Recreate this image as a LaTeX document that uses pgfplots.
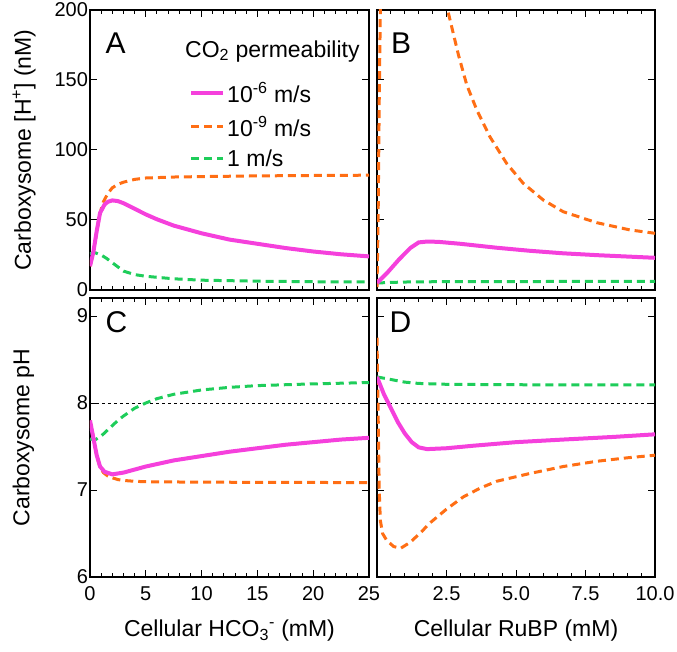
\documentclass[border=0pt]{standalone}
\usepackage{pgfplots}
\pgfplotsset{compat=1.18}
\usepackage{fontspec}
\setmainfont{Liberation Sans}
\definecolor{mag}{RGB}{245,64,220}
\definecolor{org}{RGB}{255,110,20}
\definecolor{grn}{RGB}{30,205,90}
\pgfplotsset{
  panel/.style={
    scale only axis, width=279pt, height=280pt,
    axis line style={line width=1.3pt},
    tick align=inside, xtick pos=both, ytick pos=both,
    major tick length=7pt, minor tick length=4pt,
    every tick/.style={black, line width=1pt},
    tick label style={font=\fontsize{20}{24}\selectfont},
    /pgf/number format/assume math mode=true,
    label style={font=\fontsize{23}{27}\selectfont},
    xticklabel style={inner ysep=1pt, yshift=-8.7pt},
    yticklabel style={inner ysep=0pt, xshift=1.5pt},
    ylabel style={at={(axis description cs:-0.29,0.5)}, anchor=north},
    xlabel style={at={(axis description cs:0.5,-0.215)}, anchor=base},
  },
  magl/.style={mag, line width=4pt},
  orgl/.style={org, line width=3pt, dash pattern=on 8pt off 5pt},
  grnl/.style={grn, line width=3pt, dash pattern=on 8pt off 5pt},
  refl/.style={black, line width=1pt, dash pattern=on 3pt off 3pt},
}
\begin{document}
\begin{tikzpicture}
\useasboundingbox (0,0) rectangle (677pt,651pt);
% Panel A
\begin{axis}[panel, at={(90pt,361pt)}, anchor=south west,
  xmin=0, xmax=25, ymin=0, ymax=200,
  xtick={0,5,...,25}, minor x tick num=4, xticklabels={},
  ytick={0,50,...,200},
  ylabel={Carboxysome [H\textsuperscript{+}] (nM)},
  reverse legend,
  legend image code/.code={\draw[#1] (0pt,0pt) -- (32pt,0pt);},
  legend cell align=left,
  legend style={draw=none, fill=none, at={(0.355,0.75)}, anchor=north west,
    font=\fontsize{23}{27}\selectfont, inner sep=0pt, row sep=8pt,
    nodes={inner sep=2pt},
    /tikz/every even column/.append style={column sep=14pt}},
]
\addplot[grnl] coordinates {(0,26)(0.5,26.5)(1,25)(1.5,22.5)(2,19.5)(3,13.5)(4,11)(5,9.8)(7.5,8)(10,7)(15,6.3)(20,5.9)(25,5.7)};
\addlegendentry{1 m/s}
\addplot[orgl] coordinates {(0,17)(0.3,27)(0.6,42)(0.9,55)(1.2,63)(1.6,69)(2,73)(2.5,75.5)(3,77)(4,79)(5,80)(7.5,80.7)(10,81)(15,81.5)(20,81.8)(25,82)};
\addlegendentry{10\textsuperscript{-9} m/s}
\addplot[magl] coordinates {(0,17)(0.3,27)(0.6,42)(0.9,55)(1.3,61)(1.6,63)(2,64)(2.5,63.5)(3,62)(4,58)(5,54)(6,50.5)(7.5,46)(10,40.5)(12.5,36)(15,33)(17.5,30)(20,27.5)(22.5,25.5)(25,24)};
\addlegendentry{10\textsuperscript{-6} m/s}
\node[anchor=base west, inner sep=0pt, font=\fontsize{30}{34}\selectfont] at (rel axis cs:0.055,0.846) {A};
\node[anchor=base west, inner sep=0pt, font=\fontsize{23}{27}\selectfont] at (rel axis cs:0.3405,0.832) {CO\textsubscript{2} permeability};
\end{axis}
% Panel B
\begin{axis}[panel, at={(377pt,361pt)}, anchor=south west, width=278pt,
  xmin=0, xmax=10, ymin=0, ymax=200,
  xtick={0,2.5,5,7.5,10}, minor x tick num=4, xticklabels={},
  ytick={0,50,...,200}, yticklabels={},
]
\addplot[grnl] coordinates {(0,5)(0.5,5.4)(1,5.7)(2,5.9)(4,6)(10,6.2)};
\addplot[orgl] coordinates {(0,2)(0.04,50)(0.08,135)(0.12,200)(0.2,300)(0.5,430)(0.85,470)(1.3,400)(1.9,280)(2.3,225)(2.57,197.6)(2.93,167.9)(3.23,146.4)(3.59,128.6)(4.06,109.5)(4.66,90.5)(5.26,76.2)(5.98,64.3)(6.7,55.9)(7.9,48.1)(9.1,42.9)(10,40.5)};
\addplot[magl] coordinates {(0,5)(0.4,13)(0.8,22)(1.2,30)(1.5,34)(1.8,34.6)(2.2,34.4)(3,33)(4.3,30.2)(5.5,28)(6.7,26.2)(8,24.8)(10,23)};
\node[anchor=base west, inner sep=0pt, font=\fontsize{30}{34}\selectfont] at (rel axis cs:0.05,0.846) {B};
\end{axis}
% Panel C
\begin{axis}[panel, at={(90pt,74pt)}, anchor=south west, height=279pt,
  xmin=0, xmax=25, ymin=6, ymax=9.207,
  xtick={0,5,...,25}, minor x tick num=4,
  ytick={6,7,8,9},
  ylabel={Carboxysome pH},
  xlabel={Cellular HCO\textsubscript{3}\textsuperscript{-} (mM)},
]
\addplot[refl] coordinates {(0,8)(25,8)};
\addplot[grnl] coordinates {(0,7.585)(0.5,7.58)(1,7.62)(1.5,7.68)(2,7.74)(2.5,7.8)(3,7.85)(4,7.94)(5,8.0)(6,8.05)(7.5,8.1)(10,8.15)(12.5,8.18)(15,8.2)(20,8.22)(25,8.235)};
\addplot[orgl] coordinates {(0,7.8)(0.3,7.6)(0.6,7.4)(0.9,7.26)(1.2,7.2)(1.6,7.16)(2,7.14)(2.5,7.12)(3,7.11)(4,7.1)(5,7.095)(10,7.09)(25,7.085)};
\addplot[magl] coordinates {(0,7.8)(0.3,7.6)(0.6,7.4)(0.9,7.27)(1.3,7.21)(2,7.18)(3,7.2)(5,7.27)(7.5,7.34)(10,7.39)(12.5,7.44)(15,7.48)(17.5,7.52)(20,7.55)(22.5,7.58)(25,7.6)};
\node[anchor=base west, inner sep=0pt, font=\fontsize{30}{34}\selectfont] at (rel axis cs:0.055,0.878) {C};
\end{axis}
% Panel D
\begin{axis}[panel, at={(377pt,74pt)}, anchor=south west, width=278pt, height=279pt,
  xmin=0, xmax=10, ymin=6, ymax=9.207,
  xtick={0,2.5,5,7.5,10}, minor x tick num=4,
  xticklabels={,2.5,5.0,7.5,10.0},
  ytick={6,7,8,9}, yticklabels={},
  xlabel={Cellular RuBP (mM)},
]
\addplot[refl] coordinates {(0,8)(10,8)};
\addplot[grnl] coordinates {(0,8.3)(0.5,8.27)(1,8.24)(1.5,8.225)(2.5,8.215)(5,8.21)(10,8.207)};
\addplot[orgl] coordinates {(0,8.75)(0.04,7.9)(0.08,7.0)(0.12,6.65)(0.2,6.5)(0.35,6.42)(0.6,6.35)(0.85,6.33)(1.2,6.4)(1.6,6.52)(1.9,6.62)(2.5,6.78)(3.1,6.92)(3.7,7.02)(4.3,7.1)(5.5,7.19)(6.7,7.27)(7.9,7.33)(9,7.37)(10,7.4)};
\addplot[magl] coordinates {(0,8.3)(0.25,8.1)(0.5,7.94)(0.75,7.78)(1,7.65)(1.25,7.55)(1.5,7.49)(1.8,7.47)(2.5,7.48)(3.5,7.51)(5,7.55)(6.7,7.58)(8.5,7.61)(10,7.64)};
\node[anchor=base west, inner sep=0pt, font=\fontsize{30}{34}\selectfont] at (rel axis cs:0.045,0.878) {D};
\end{axis}
\end{tikzpicture}
\end{document}
